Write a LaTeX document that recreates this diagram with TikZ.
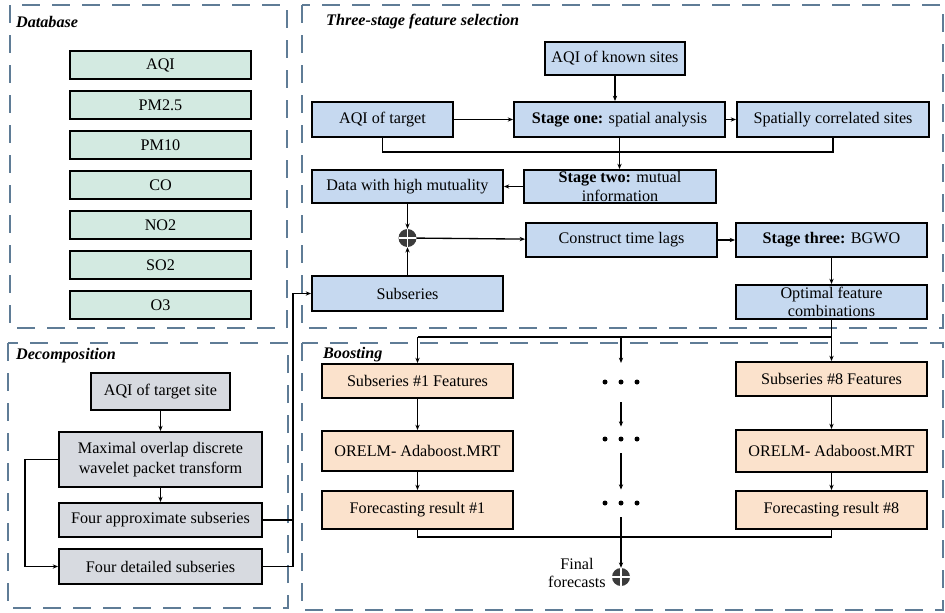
\documentclass[tikz,border=0pt]{standalone}
\usepackage{fontspec}
\setmainfont{Liberation Serif}
\usepackage{xcolor}
\usetikzlibrary{positioning,arrows.meta}

\definecolor{dbgreen}{HTML}{D3EAE1}
\definecolor{selblue}{HTML}{C6D9F0}
\definecolor{decgray}{HTML}{D7DAE0}
\definecolor{boostpeach}{HTML}{FBE2CC}
\definecolor{panelline}{HTML}{5F7C96}
\definecolor{plusgray}{HTML}{3C3C3C}

\begin{document}
\begin{tikzpicture}[x=0.3mm, y=-0.3mm,
  font=\fontsize{13.8}{16}\selectfont,
  box/.style={draw, line width=0.6mm, inner sep=0pt, align=center},
  dbbox/.style={box, fill=dbgreen, minimum width=54.3mm, minimum height=8.4mm},
  selbox/.style={box, fill=selblue, minimum width=57.3mm, minimum height=10.2mm},
  decbox/.style={box, fill=decgray, minimum width=60.9mm},
  boostbox/.style={box, fill=boostpeach, minimum width=57.3mm},
  panel/.style={draw=panelline, line width=0.5mm, dash pattern=on 5.4mm off 3.6mm},
  paneltitle/.style={anchor=west, font=\fontsize{13.8}{16}\selectfont\bfseries\itshape},
  link/.style={line width=0.4mm, -{Stealth[length=1.6mm, width=1.3mm]}},
  wire/.style={line width=0.4mm},
  plus/.style={circle, fill=plusgray, minimum size=5.4mm, inner sep=0pt,
    path picture={\draw[white, line width=0.5mm]
      (path picture bounding box.north) -- (path picture bounding box.south)
      (path picture bounding box.west) -- (path picture bounding box.east);}},
  dot/.style={circle, fill=black, minimum size=1.5mm, inner sep=0pt}]

\useasboundingbox (0,0) rectangle (945,613);

% panels
\draw[panel] (10,5) rectangle (287,328);
\draw[panel] (302,5) rectangle (943,328);
\draw[panel] (8,343) rectangle (288,608);
\draw[panel] (302,343) rectangle (943,610);

% database
\node[paneltitle] (db_title) at (12,22) {Database};
\foreach \name/\txt [count=\i from 0] in {aqi/AQI, pm25/PM2.5, pm10/PM10, co/CO, no2/NO2, so2/SO2, o3/O3}
  \node[dbbox] (db_\name) at (160.5,65+40*\i) {\txt};

% three-stage feature selection
\node[paneltitle] (sel_title) at (322,22) {Three-stage feature selection};
\node[selbox, minimum width=42mm, minimum height=9.9mm] (known_sites) at (615,58) {AQI of known sites};
\node[selbox, minimum width=42.3mm, minimum height=10.5mm] (aqi_target) at (382.5,119.5) {AQI of target};
\node[selbox, minimum width=63.3mm, minimum height=10.5mm] (stage_one) at (619.5,119.5) {\textbf{Stage one:} spatial analysis};
\node[selbox, minimum width=57.6mm, minimum height=10.5mm] (corr_sites) at (833,119.5) {Spatially correlated sites};
\node[selbox, minimum height=9.9mm] (high_mutual) at (407.5,186.5) {Data with high mutuality};
\node[selbox, minimum width=57.6mm, minimum height=9.9mm] (stage_two) at (620,186.5) {\textbf{Stage two:} mutual\\information};
\node[plus] (merge_plus) at (407.5,238) {};
\node[selbox] (time_lags) at (621.5,240) {Construct time lags};
\node[selbox] (stage_three) at (831.5,240) {\textbf{Stage three:} BGWO};
\node[selbox, minimum height=10.5mm] (subseries) at (407.5,293.5) {Subseries};
\node[selbox] (optimal_comb) at (831.5,302) {Optimal feature\\combinations};

\coordinate (sel_bus) at (stage_one.south |- 0,152);
\draw[link] (known_sites.south) -- (known_sites.south |- stage_one.north);
\draw[link] (aqi_target) -- (stage_one);
\draw[link] (stage_one) -- (corr_sites);
\draw[wire] (aqi_target.south) |- (sel_bus) -| (corr_sites.south);
\draw[wire] (stage_one.south) -- (sel_bus);
\draw[link] (sel_bus) -- (sel_bus |- stage_two.north);
\draw[link] (stage_two) -- (high_mutual);
\draw[link] (high_mutual) -- (merge_plus);
\draw[link] (subseries) -- (merge_plus);
\draw[link] (merge_plus) -- (time_lags);
\draw[link] (time_lags) -- (stage_three);
\draw[link] (stage_three) -- (optimal_comb);

% decomposition
\node[paneltitle] (dec_title) at (12,356) {Decomposition};
\node[decbox, minimum width=41.7mm, minimum height=11.1mm] (target_site) at (160.5,391.5) {AQI of target site};
\node[decbox, minimum height=16.5mm, font=\fontsize{13.8}{16.5}\selectfont] (modwpt) at (160.5,459.5) {Maximal overlap discrete\\wavelet packet transform};
\node[decbox, minimum height=10.2mm] (approx_sub) at (160.5,520) {Four approximate subseries};
\node[decbox, minimum height=10.5mm] (detail_sub) at (160.5,566.5) {Four detailed subseries};

\coordinate (dec_out) at (293,566.5);
\draw[link] (target_site) -- (modwpt);
\draw[link] (modwpt) -- (approx_sub);
\draw[link] (modwpt.west) -- ++(-33,0) |- (detail_sub.west);
\draw[wire] (approx_sub.east) -- (approx_sub.east -| dec_out);
\draw[link] (detail_sub.east) -- (dec_out) |- (subseries.west);

% boosting
\node[paneltitle] (boost_title) at (319,355) {Boosting};
\node[boostbox, minimum height=10.2mm] (feat_1) at (417.5,381) {Subseries \#1 Features};
\node[boostbox, minimum height=12mm] (orelm_1) at (417.5,451) {ORELM- Adaboost.MRT};
\node[boostbox, minimum height=11.4mm] (result_1) at (417.5,510) {Forecasting result \#1};
\node[boostbox, minimum height=10.2mm] (feat_8) at (831.5,379) {Subseries \#8 Features};
\node[boostbox, minimum height=12.6mm] (orelm_8) at (831.5,451) {ORELM- Adaboost.MRT};
\node[boostbox, minimum height=11.4mm] (result_8) at (831.5,510) {Forecasting result \#8};
\foreach \row/\y in {1/382, 2/439, 3/503} {
  \node[dot] (dots_\row) at (621,\y) {};
  \node[dot] (dots_\row l) at (605,\y) {};
  \node[dot] (dots_\row r) at (637,\y) {};
}
\node[plus] (final_plus) at (621,577) {};
\node[left=0.6mm of final_plus, yshift=1.2mm, align=center] (final_label) {Final\\forecasts};

\coordinate (split_l) at (417.5,337);
\coordinate (split_m) at (621,337);
\draw[wire] (optimal_comb.south |- split_l) -- (split_l);
\draw[link] (optimal_comb) -- (feat_8);
\draw[link] (split_l) -- (feat_1);
\draw[link, shorten >=4.9mm] (split_m) -- (dots_1);
\draw[link, shorten <=5.2mm, shorten >=2.9mm] (dots_1) -- (dots_2);
\draw[link, shorten <=3.5mm, shorten >=3.2mm] (dots_2) -- (dots_3);
\draw[link, shorten <=3.5mm] (dots_3) -- (final_plus);
\draw[link] (feat_1) -- (orelm_1);
\draw[link] (orelm_1) -- (result_1);
\draw[link] (feat_8) -- (orelm_8);
\draw[link] (orelm_8) -- (result_8);
\draw[wire] (result_1.south) -- ++(0,7) -| (result_8.south);

\end{tikzpicture}
\end{document}
